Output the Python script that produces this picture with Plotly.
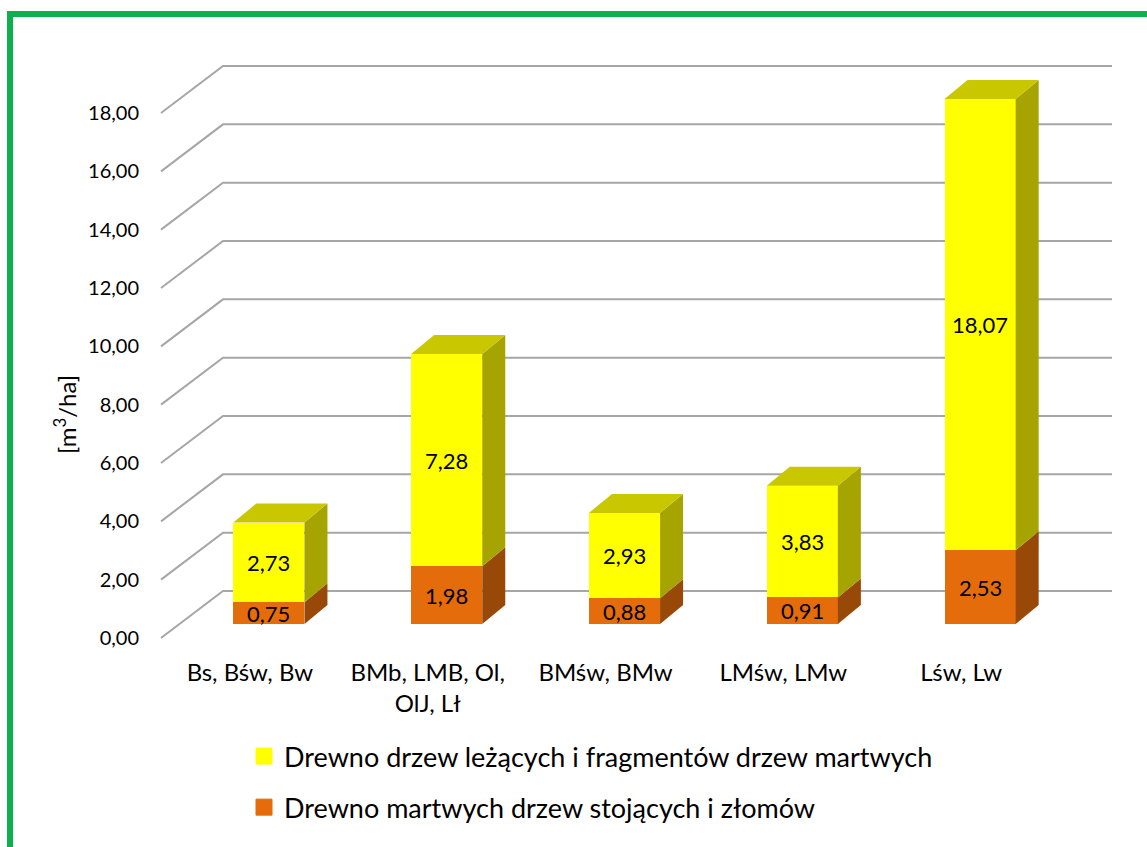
import plotly.graph_objects as go

# ---- data ----
categories = ["Bs, Bśw, Bw", "BMb, LMB, Ol,<br>OlJ, Lł", "BMśw, BMw", "LMśw, LMw", "Lśw, Lw"]
standing = [0.75, 1.98, 0.88, 0.91, 2.53]      # Drewno martwych drzew stojących i złomów
lying = [2.73, 7.28, 2.93, 3.83, 18.07]        # Drewno drzew leżących i fragmentów drzew martwych
name_lying = "Drewno drzew leżących i fragmentów drzew martwych"
name_standing = "Drewno martwych drzew stojących i złomów"
y_ticks = [0, 2, 4, 6, 8, 10, 12, 14, 16, 18]
y_max = 18

# ---- geometry of the pseudo-3D box (pixels) ----
W, H = 1147, 847
X0, X1 = 180, 1069          # bar plane, left/right
Y0, YT = 624, 99            # bar plane, value 0 / value y_max
sx = (X1 - X0) / len(categories)
sy = (Y0 - YT) / y_max
FRONT = (-19, 14)           # front wall offset from bar plane (px right, px down)
BACK = (43, -33)            # back wall offset
DEPTH = (23, -19)           # bar depth offset
BAR_W = 0.4

FONT = "Lato"
C_YEL, C_YEL_TOP, C_YEL_SIDE = "#FFFF00", "#C9C700", "#A6A400"
C_ORA, C_ORA_SIDE = "#E46C0A", "#984807"
C_GRID = "#A6A6A6"


def dx(px):
    return px / sx


def dy(px_down):
    return -px_down / sy


def fmt(v):
    return f"{v:.2f}".replace(".", ",")


fig = go.Figure()

# decoration subplot covering the whole figure, aligned with the bar axes units
fig.add_trace(go.Scatter(x=[None], y=[None], xaxis="x", yaxis="y", showlegend=False, hoverinfo="skip"))

# bars on the clipped plotting area
n = len(categories)
xs = list(range(n))
fig.add_trace(go.Bar(x=xs, y=standing, width=BAR_W, marker=dict(color=C_ORA, line=dict(width=0)),
                     xaxis="x2", yaxis="y2", showlegend=False, hoverinfo="skip"))
fig.add_trace(go.Bar(x=xs, y=lying, width=BAR_W, marker=dict(color=C_YEL, line=dict(width=0)),
                     xaxis="x2", yaxis="y2", showlegend=False, hoverinfo="skip"))

# legend entries
fig.add_trace(go.Scatter(x=[None], y=[None], mode="markers", name=name_lying, legendgroup="a",
                         marker=dict(symbol="square", size=16, color=C_YEL, line=dict(width=1, color=C_YEL)),
                         xaxis="x", yaxis="y"))
fig.add_trace(go.Scatter(x=[None], y=[None], mode="markers", name=name_standing, legendgroup="b",
                         marker=dict(symbol="square", size=16, color=C_ORA, line=dict(width=1, color=C_ORA)),
                         xaxis="x", yaxis="y"))

# front-wall axes that carry tick labels
fig.add_trace(go.Scatter(x=[None], y=[None], xaxis="x3", yaxis="y3", showlegend=False, hoverinfo="skip"))

shapes = []
# gridlines: front edge -> back wall -> across the back wall
fx0 = -0.5 + dx(FRONT[0])
bx0 = -0.5 + dx(BACK[0])
bx1 = n - 0.5 + dx(BACK[0])
for v in y_ticks:
    fy = v + dy(FRONT[1])
    by = v + dy(BACK[1])
    shapes.append(dict(type="path", xref="x", yref="y", layer="below",
                       path=f"M{fx0},{fy} L{bx0},{by} L{bx1},{by}",
                       line=dict(color=C_GRID, width=2)))

# side and top faces of bars
ddx, ddy = dx(DEPTH[0]), dy(DEPTH[1])
for i in xs:
    xr = i + BAR_W / 2
    xl = i - BAR_W / 2
    segs = [(0, standing[i], C_ORA_SIDE), (standing[i], standing[i] + lying[i], C_YEL_SIDE)]
    for b, t, col in segs:
        b, t = min(b, y_max), min(t, y_max)
        if t <= b:
            continue
        shapes.append(dict(type="path", xref="x", yref="y", layer="above",
                           path=f"M{xr},{b} L{xr},{t} L{xr + ddx},{t + ddy} L{xr + ddx},{b + ddy} Z",
                           fillcolor=col, line=dict(width=0)))
    top = min(standing[i] + lying[i], y_max)
    shapes.append(dict(type="path", xref="x", yref="y", layer="above",
                       path=f"M{xl},{top} L{xl + ddx},{top + ddy} L{xr + ddx},{top + ddy} L{xr},{top} Z",
                       fillcolor=C_YEL_TOP, line=dict(width=0)))

# green frame
shapes.append(dict(type="rect", xref="paper", yref="paper", x0=10 / W, x1=1.05, y0=-0.05, y1=1 - 14 / H,
                   line=dict(color="#0BB04F", width=6), fillcolor="rgba(0,0,0,0)", layer="above"))

# data labels centred in the visible part of each segment
annotations = []
for i in xs:
    s, l = standing[i], lying[i]
    annotations.append(dict(x=i, y=min(s, y_max) / 2, xref="x2", yref="y2", text=fmt(s), showarrow=False,
                            font=dict(family=FONT, size=22, color="#000000")))
    annotations.append(dict(x=i, y=(min(s, y_max) + min(s + l, y_max)) / 2, xref="x2", yref="y2", text=fmt(l),
                            showarrow=False, font=dict(family=FONT, size=22, color="#000000")))

annotations.append(dict(x=65 / W, y=1 - 415 / H, xref="paper", yref="paper", text="[m<sup>3</sup>/ha]",
                        xanchor="center", yanchor="middle",
                        textangle=-90, showarrow=False, font=dict(family=FONT, size=24, color="#000000")))

fig.update_layout(
    width=W, height=H,
    margin=dict(l=0, r=0, t=0, b=0, pad=0, autoexpand=False),
    paper_bgcolor="white", plot_bgcolor="rgba(0,0,0,0)",
    separators=", ",
    barmode="stack",
    font=dict(family=FONT, color="#000000"),
    xaxis=dict(domain=[0, 1], range=[-0.5 - X0 / sx, -0.5 + (W - X0) / sx], visible=False,
               fixedrange=True, automargin=False),
    yaxis=dict(domain=[0, 1], range=[(Y0 - H) / sy, Y0 / sy], visible=False,
               fixedrange=True, automargin=False),
    xaxis2=dict(domain=[X0 / W, X1 / W], range=[-0.5, n - 0.5], visible=False, anchor="y2", automargin=False),
    yaxis2=dict(domain=[1 - Y0 / H, 1 - YT / H], range=[0, y_max], visible=False, anchor="x2", automargin=False),
    xaxis3=dict(domain=[(X0 + FRONT[0]) / W, (X1 + FRONT[0]) / W], range=[-0.5, n - 0.5], anchor="y3",
                tickvals=xs, ticktext=categories, showgrid=False, zeroline=False, showline=False,
                ticks="", ticklabelstandoff=18, automargin=False,
                tickfont=dict(family=FONT, size=24, color="#000000")),
    yaxis3=dict(domain=[1 - (Y0 + FRONT[1]) / H, 1 - (YT + FRONT[1]) / H], range=[0, y_max], anchor="x3",
                tickvals=y_ticks, tickformat=".2f", showgrid=False, zeroline=False, showline=False,
                ticks="", ticklabelstandoff=21, automargin=False,
                tickfont=dict(family=FONT, size=20, color="#000000")),
    legend=dict(x=244 / W, y=1 - 732 / H, xanchor="left", yanchor="top", tracegroupgap=13,
                font=dict(family=FONT, size=27, color="#000000"), bgcolor="rgba(0,0,0,0)",
                traceorder="grouped"),
    shapes=shapes,
    annotations=annotations,
)

fig.write_html("out.html")
